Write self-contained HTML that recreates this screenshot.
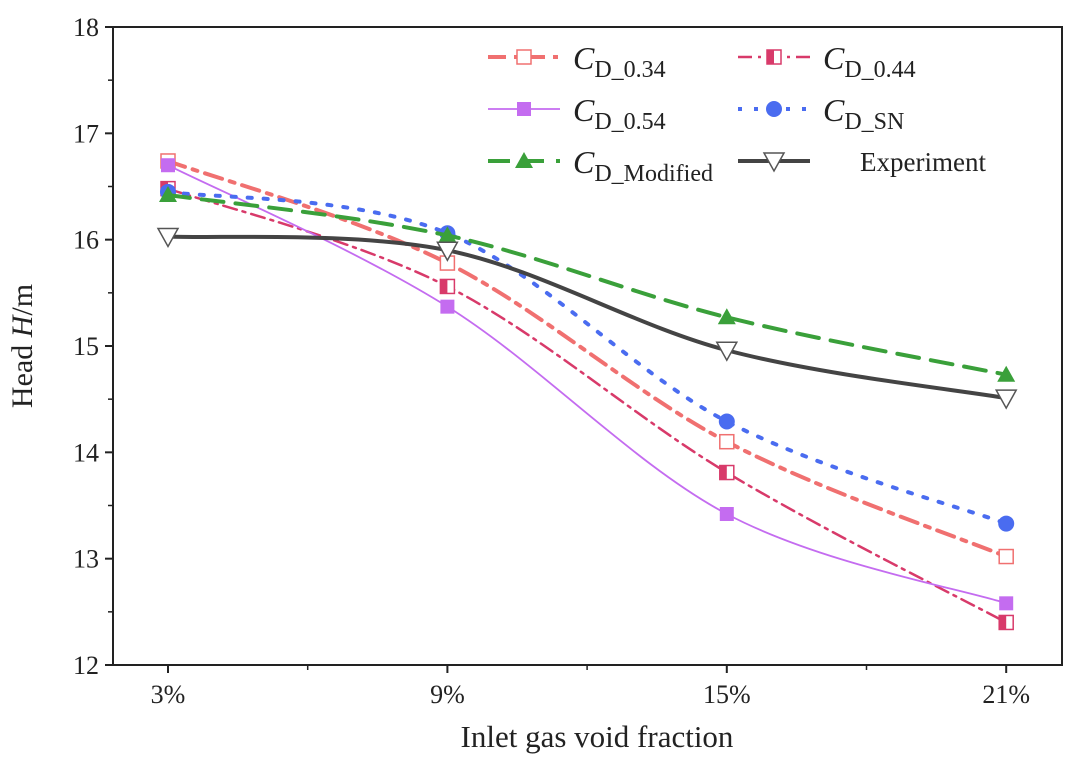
<!DOCTYPE html>
<html><head><meta charset="utf-8"><style>
body{margin:0;background:#fff;}
svg text{font-family:"Liberation Serif",serif;fill:#222;}
</style></head><body>
<svg id="chart" width="1084" height="768" viewBox="0 0 1084 768">
<rect x="113" y="27" width="949" height="638" fill="none" stroke="#222" stroke-width="2"/>
<g id="axes"></g><g id="series"></g><g id="legend"></g>
<text x="32" y="346" font-size="30" text-anchor="middle" transform="rotate(-90 32 346)">Head <tspan font-style="italic">H</tspan>/m</text>
<text x="597" y="747" font-size="31" text-anchor="middle">Inlet gas void fraction</text>
</svg>
<script>
const categories=["3%","9%","15%","21%"];
const yTicks=[12,13,14,15,16,17,18];
const c034=[16.74,15.78,14.10,13.02];
const c044=[16.48,15.56,13.81,12.40];
const c054=[16.70,15.37,13.42,12.58];
const cSN=[16.45,16.06,14.29,13.33];
const cMod=[16.42,16.04,15.27,14.73];
const cExp=[16.03,15.90,14.96,14.51];
const NS="http://www.w3.org/2000/svg";
const x0=113,x1=1062,y0=27,y1=665;
function X(i){return 168+i*279.4;}
function Y(v){return y1-(v-12)/(18-12)*(y1-y0);}
function mk(tag,at,parent){const e=document.createElementNS(NS,tag);for(const k in at)e.setAttribute(k,at[k]);parent.appendChild(e);return e;}
const axes=document.getElementById('axes');
yTicks.forEach(t=>{
 const l=mk('line',{x1:x0,x2:x0-8,y1:Y(t),y2:Y(t),stroke:'#222','stroke-width':2},axes);
 
 
 const tx=mk('text',{x:x0-14,y:Y(t)+9,'font-size':26,'text-anchor':'end'},axes);tx.textContent=t;
 
 
});
for(let t=12.5;t<18;t+=1){const l=mk('line',{x1:x0,x2:x0-5,y1:Y(t),y2:Y(t),stroke:'#222','stroke-width':1.5},axes);
 
 }
categories.forEach((c,i)=>{
 const l=mk('line',{x1:X(i),x2:X(i),y1:y1,y2:y1+8,stroke:'#222','stroke-width':2},axes);
 
 
 if(i<categories.length-1){const m=mk('line',{x1:X(i+0.5),x2:X(i+0.5),y1:y1,y2:y1+5,stroke:'#222','stroke-width':1.5},axes);
 
 }
 const tx=mk('text',{x:X(i),y:y1+38,'font-size':26,'text-anchor':'middle'},axes);tx.textContent=c;
 
 
});
function pathD(vals){
 const p=vals.map((v,i)=>[X(i),Y(v)]);let d=`M${p[0][0]},${p[0][1]}`;
 for(let i=0;i<p.length-1;i++){const a=p[Math.max(i-1,0)],b=p[i],c=p[i+1],e=p[Math.min(i+2,p.length-1)];
  const c1=[b[0]+(c[0]-a[0])/6,b[1]+(c[1]-a[1])/6],c2=[c[0]-(e[0]-b[0])/6,c[1]-(e[1]-b[1])/6];
  d+=` C${c1[0]},${c1[1]} ${c2[0]},${c2[1]} ${c[0]},${c[1]}`;}
 return d;}
function marker(g,type,x,y,col){
 let e;
 if(type==='sqo')e=mk('rect',{x:x-7,y:y-7,width:14,height:14,fill:'#fff',stroke:col,'stroke-width':1.5},g);
 else if(type==='sqh'){e=mk('rect',{x:x-7,y:y-7,width:14,height:14,fill:'#fff',stroke:col,'stroke-width':1.5},g);mk('rect',{x:x-7,y:y-7,width:7,height:14,fill:col},g);}
 else if(type==='sqf')e=mk('rect',{x:x-7,y:y-7,width:14,height:14,fill:col},g);
 else if(type==='circ')e=mk('circle',{cx:x,cy:y,r:8,fill:col},g);
 else if(type==='tri')e=mk('polygon',{points:`${x},${y-9} ${x-9},${y+7} ${x+9},${y+7}`,fill:col},g);
 else e=mk('polygon',{points:`${x-10},${y-8} ${x+10},${y-8} ${x},${y+10}`,fill:'#fff',stroke:'#555','stroke-width':1.5},g);
 return e;}
const series=[
 {name:'cd-0-34',vals:c034,col:'#f07070',dash:'18 8 5 8',w:4,m:'sqo',lab:'0.34'},
 {name:'cd-0-44',vals:c044,col:'#d83a6a',dash:'14 6 3 6',w:2.5,m:'sqh',lab:'0.44'},
 {name:'cd-0-54',vals:c054,col:'#c46cf0',dash:'',w:1.8,m:'sqf',lab:'0.54'},
 {name:'cd-sn',vals:cSN,col:'#4a6cf0',dash:'4 12',w:4,m:'circ',lab:'SN'},
 {name:'cd-modified',vals:cMod,col:'#3aa03a',dash:'22 12',w:4,m:'tri',lab:'Modified'},
 {name:'experiment',vals:cExp,col:'#444',dash:'',w:4,m:'inv',lab:null}
];
const sg=document.getElementById('series');
series.forEach(s=>{
 const g=mk('g',{},sg);
 
 
 const p=mk('path',{d:pathD(s.vals),fill:'none',stroke:s.col,'stroke-width':s.w,'stroke-dasharray':s.dash,'stroke-linecap':'round'},g);
 
 
 s.vals.forEach((v,i)=>{const e=marker(g,s.m,X(i),Y(v),s.col);
  
  });
});
const lg=document.getElementById('legend');
series.forEach((s,i)=>{
 const col=i%2,row=Math.floor(i/2);
 const lx=col?738:488,ly=57+row*52;
 const g=mk('g',{},lg);
 
 
 mk('line',{x1:lx,x2:lx+72,y1:ly,y2:ly,stroke:s.col,'stroke-width':s.w,'stroke-dasharray':s.dash},g);
 marker(g,s.m,lx+36,ly,s.col);
 const t=mk('text',{x:lx+85,y:ly+12,'font-size':32},g);
 if(s.lab)t.innerHTML=`<tspan font-style="italic">C</tspan><tspan font-size="24" dy="8">D_${s.lab}</tspan>`;
 else {t.setAttribute('font-size','27');t.setAttribute('y',ly+10);t.setAttribute('x',lx+122);t.textContent='Experiment';}
});
</script>
</body></html>
